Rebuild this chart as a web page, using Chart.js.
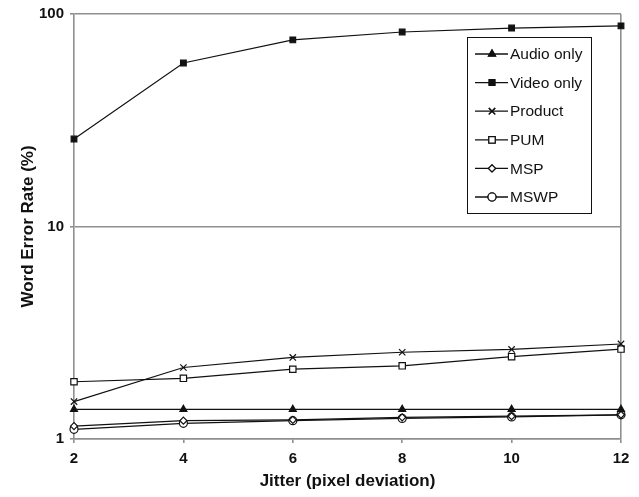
<!DOCTYPE html>
<html>
<head>
<meta charset="utf-8">
<script src="https://cdn.jsdelivr.net/npm/chart.js@4/dist/chart.umd.min.js"></script>
<style>
  html, body { margin: 0; padding: 0; background: #fff; }
  #wrap { width: 639px; height: 497px; }
</style>
</head>
<body>
<div id="wrap"><canvas id="werChart" width="639" height="497"></canvas></div>
<script>
const jitter = [2, 4, 6, 8, 10, 12];
const audioOnly = [1.38, 1.38, 1.38, 1.38, 1.38, 1.38];
const videoOnly = [25.8, 58.8, 75.5, 82.3, 85.9, 87.9];
const product = [1.50, 2.17, 2.42, 2.56, 2.64, 2.80];
const pum = [1.86, 1.93, 2.13, 2.21, 2.44, 2.65];
const msp = [1.15, 1.22, 1.23, 1.265, 1.28, 1.30];
const mswp = [1.11, 1.185, 1.22, 1.25, 1.27, 1.30];
const yTicks = [1, 10, 100];

const axisGray = "#8f8f8f";
const fontFam = "Arial, 'Liberation Sans', sans-serif";

function series(label, values, style, radius, fill) {
  return {
    label: label,
    data: jitter.map((x, i) => ({ x: x, y: values[i] })),
    borderColor: "#111",
    borderWidth: 1.2,
    pointStyle: style,
    pointRadius: radius,
    pointBackgroundColor: fill,
    pointBorderColor: "#111",
    pointBorderWidth: 1.2,
    tension: 0,
    fill: false,
    clip: false
  };
}

const datasets = [
  series("Audio only", audioOnly, "triangle", 4, "#111"),
  series("Video only", videoOnly, "rect", 4, "#111"),
  series("Product", product, "crossRot", 4.5, "#111"),
  series("PUM", pum, "rect", 4.5, "#fff"),
  series("MSP", msp, "rectRot", 3.5, "#fff"),
  series("MSWP", mswp, "circle", 4, "#fff")
];

// legend box drawn inside the plot area, like the original
const boxLegend = {
  id: "boxLegend",
  afterDraw(chart) {
    const ctx = chart.ctx;
    const area = chart.chartArea;
    const left = area.right - 154, top = area.top + 23;
    const w = 124, h = 176;
    ctx.save();
    ctx.fillStyle = "#fff";
    ctx.fillRect(left, top, w, h);
    ctx.strokeStyle = "#111";
    ctx.lineWidth = 1;
    ctx.strokeRect(left + 0.5, top + 0.5, w, h);
    ctx.font = "15.5px " + fontFam;
    ctx.textBaseline = "middle";
    chart.data.datasets.forEach((ds, i) => {
      const y = top + 17 + i * 28.6;
      ctx.strokeStyle = "#111";
      ctx.lineWidth = 1.3;
      ctx.beginPath();
      ctx.moveTo(left + 8, y);
      ctx.lineTo(left + 41, y);
      ctx.stroke();
      Chart.helpers.drawPoint(ctx, {
        pointStyle: ds.pointStyle,
        radius: ds.pointRadius,
        borderWidth: ds.pointBorderWidth,
        rotation: 0
      }, left + 25, y);
      ctx.fillStyle = ds.pointBackgroundColor;
      ctx.strokeStyle = "#111";
      ctx.lineWidth = 1.2;
      ctx.fill();
      ctx.stroke();
      ctx.fillStyle = "#111";
      ctx.fillText(ds.label, left + 43, y + 1);
    });
    ctx.restore();
  }
};

const ctx = document.getElementById("werChart").getContext("2d");
new Chart(ctx, {
  type: "line",
  data: { datasets: datasets },
  options: {
    responsive: false,
    animation: false,
    layout: { padding: { top: 14, right: 18, left: 0, bottom: 0 } },
    plugins: {
      legend: { display: false },
      tooltip: { enabled: false }
    },
    scales: {
      x: {
        type: "linear",
        min: 2,
        max: 12,
        afterFit: (scale) => {
          scale.paddingLeft = 0;
          scale.paddingRight = 0;
          scale.height = 58;
        },
        ticks: {
          stepSize: 2,
          color: "#111",
          font: { family: fontFam, size: 15, weight: "bold" },
          padding: 7
        },
        grid: {
          color: (c) => (c.tick && c.tick.value === 12 ? axisGray : "rgba(0,0,0,0)"),
          tickColor: axisGray,
          tickLength: 4,
          lineWidth: 1.6
        },
        border: { display: true, color: axisGray, width: 1.6 },
        title: {
          display: true,
          text: "Jitter (pixel deviation)",
          color: "#111",
          font: { family: fontFam, size: 17, weight: "bold" },
          padding: { top: 0, bottom: 5 }
        }
      },
      y: {
        type: "logarithmic",
        min: 1,
        max: 100,
        afterBuildTicks: (scale) => {
          scale.ticks = yTicks.map((v) => ({ value: v }));
        },
        afterFit: (scale) => {
          scale.paddingTop = 0;
          scale.paddingBottom = 0;
          scale.width = 74;
        },
        ticks: {
          color: "#111",
          font: { family: fontFam, size: 15, weight: "bold" },
          padding: 6,
          callback: (v) => String(v)
        },
        grid: {
          color: axisGray,
          tickColor: axisGray,
          tickLength: 4,
          lineWidth: 1.6
        },
        border: { display: true, color: axisGray, width: 1.6 },
        title: {
          display: true,
          text: "Word Error Rate (%)",
          color: "#111",
          font: { family: fontFam, size: 17, weight: "bold" },
          padding: { top: 18, bottom: 0 }
        }
      }
    }
  },
  plugins: [boxLegend]
});
</script>
</body>
</html>
